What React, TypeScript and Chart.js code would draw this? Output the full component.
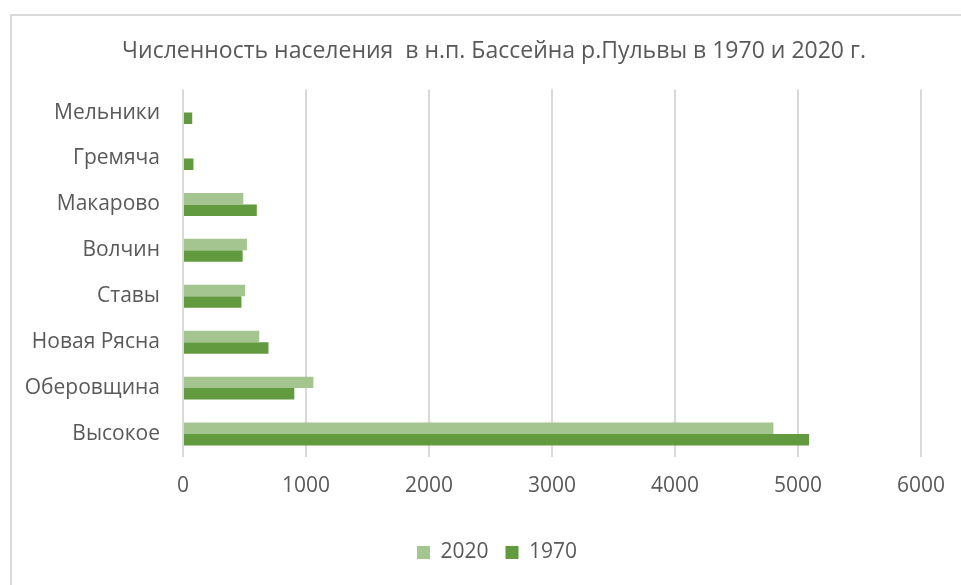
import React, { useEffect, useRef } from 'react';
import { Chart, registerables } from 'chart.js';

Chart.register(...registerables);

const categories = ['Мельники', 'Гремяча', 'Макарово', 'Волчин', 'Ставы', 'Новая Рясна', 'Оберовщина', 'Высокое'];
const values2020: (number | null)[] = [null, null, 490, 520, 505, 620, 1060, 4800];
const values1970: (number | null)[] = [75, 85, 600, 485, 475, 695, 905, 5090];
const seriesLabels = ['2020', '1970'];
const xMin = 0;
const xMax = 6000;
const xStep = 1000;
const titleText = 'Численность населения  в н.п. Бассейна р.Пульвы в 1970 и 2020 г.';

const FONT = '"Open Sans", "DejaVu Sans", sans-serif';
const TEXT = '#595959';

const shiftBlocks = {
  id: 'shiftBlocks',
  beforeDraw(chart: any) {
    if (chart.titleBlock) chart.titleBlock.left = 66;
    if (chart.legend) chart.legend.left = 72;
  },
};

export default function App() {
  const ref = useRef<HTMLCanvasElement | null>(null);

  useEffect(() => {
    document.body.style.margin = '0';
    const canvas = ref.current;
    if (!canvas) return;
    const chart = new Chart(canvas, {
      type: 'bar',
      data: {
        labels: categories,
        datasets: [
          {
            label: seriesLabels[0],
            data: values2020,
            backgroundColor: '#a4c490',
            borderWidth: 0,
            categoryPercentage: 0.5,
            barPercentage: 1,
          },
          {
            label: seriesLabels[1],
            data: values1970,
            backgroundColor: '#629a3f',
            borderWidth: 0,
            categoryPercentage: 0.5,
            barPercentage: 1,
          },
        ],
      },
      plugins: [shiftBlocks],
      options: {
        indexAxis: 'y',
        animation: false,
        responsive: false,
        maintainAspectRatio: false,
        layout: { padding: { left: 0, right: 39, top: 0, bottom: 12 } },
        plugins: {
          title: {
            display: true,
            text: titleText,
            color: TEXT,
            font: { family: FONT, size: 23, weight: 'normal' },
            padding: { top: 38, bottom: 24 },
          },
          legend: {
            display: true,
            position: 'bottom',
            labels: {
              color: TEXT,
              font: { family: FONT, size: 21 },
              boxWidth: 13,
              boxHeight: 13,
              padding: 17,
            },
          },
          tooltip: { enabled: false },
        },
        scales: {
          x: {
            type: 'linear',
            min: xMin,
            max: xMax,
            ticks: {
              stepSize: xStep,
              color: TEXT,
              font: { family: FONT, size: 21 },
              padding: 16,
              callback: (v: any) => String(v),
            },
            grid: { color: '#d9d9d9', lineWidth: 2, drawTicks: false },
            border: { display: false },
            afterFit: (scale: any) => {
              scale.height = 68;
            },
          },
          y: {
            type: 'category',
            ticks: { color: TEXT, font: { family: FONT, size: 21 }, padding: 23 },
            grid: { display: false, drawTicks: false },
            border: { display: false },
            afterFit: (scale: any) => {
              scale.width = 183;
            },
          },
        },
      },
    });
    return () => chart.destroy();
  }, []);

  return (
    <div style={{ position: 'fixed', left: 0, top: 0, width: 961, height: 585, overflow: 'hidden', background: '#fff' }}>
      <div
        style={{
          position: 'absolute',
          left: 10,
          top: 14,
          width: 1200,
          height: 1200,
          borderLeft: '2px solid #d9d9d9',
          borderTop: '2px solid #d9d9d9',
        }}
      />
      <canvas ref={ref} width={961} height={585} style={{ position: 'absolute', left: 0, top: 0 }} />
    </div>
  );
}
